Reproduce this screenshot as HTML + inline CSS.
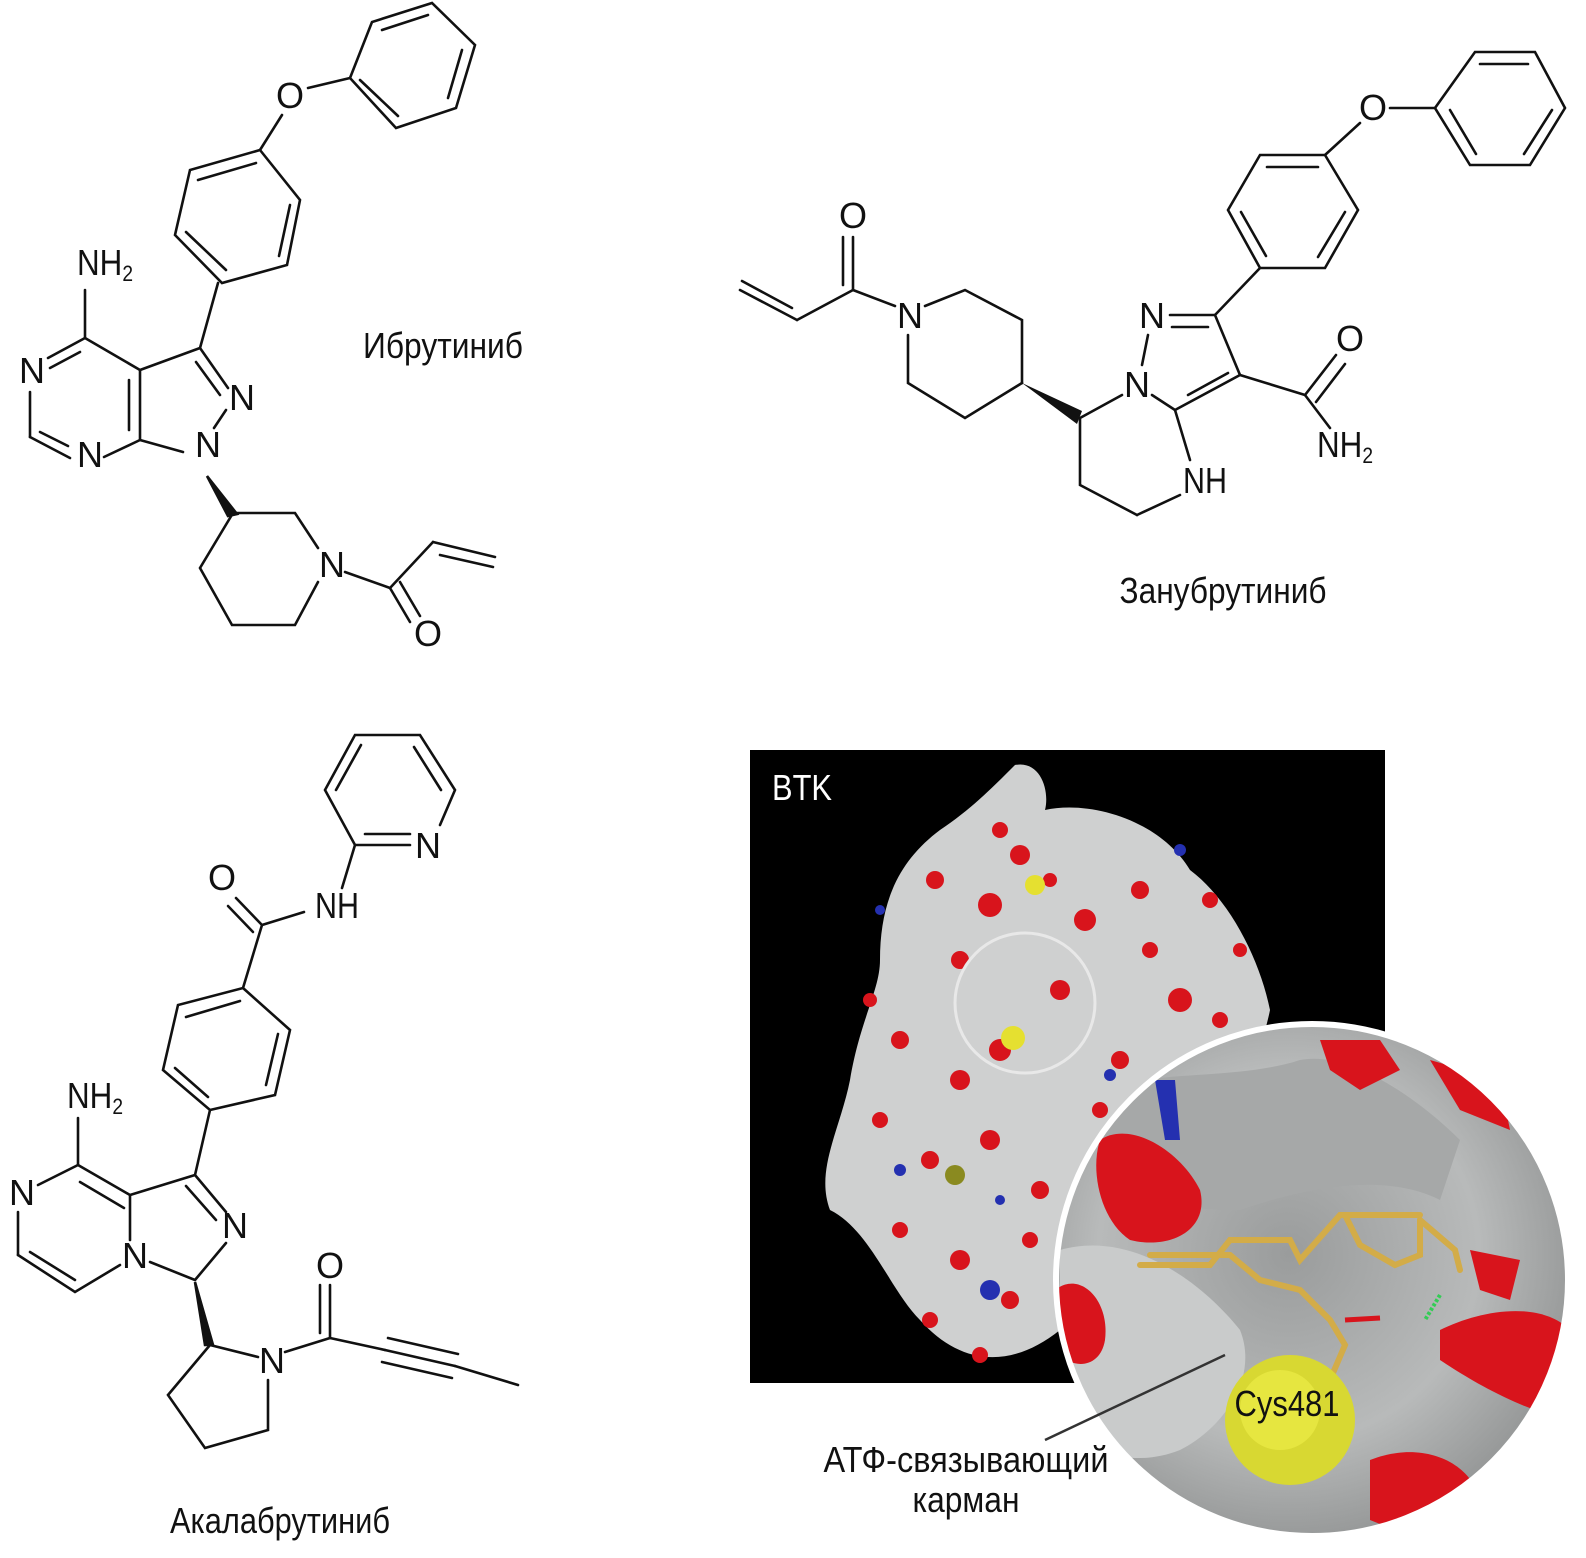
<!DOCTYPE html>
<html><head><meta charset="utf-8">
<style>
html,body{margin:0;padding:0;background:#fff;}
svg{display:block;}
text{font-family:"Liberation Sans Narrow","Liberation Sans",sans-serif;fill:#111;}
</style></head><body>
<svg width="1586" height="1558" viewBox="0 0 1586 1558" xmlns="http://www.w3.org/2000/svg">
<defs>
<radialGradient id="zg" cx="45%" cy="45%" r="60%">
<stop offset="0" stop-color="#9a9c9c"/><stop offset="0.6" stop-color="#b8baba"/><stop offset="1" stop-color="#8e9090"/>
</radialGradient>
<clipPath id="cc"><circle cx="1312" cy="1280" r="254"/></clipPath>
</defs>
<g stroke="#111" stroke-width="2.6" fill="none" stroke-linecap="round">
<!-- IBRUTINIB -->
<polygon points="350,78 372,22 432,3 475,45 456,108 396,128"/>
<line x1="382" y1="30" x2="428" y2="15"/><line x1="462" y1="50" x2="448" y2="98"/><line x1="398" y1="116" x2="360" y2="80"/>
<line x1="308" y1="88" x2="350" y2="78"/><line x1="282" y1="115" x2="260" y2="150"/>
<polygon points="260,150 300,200 287,265 222,283 175,235 190,170"/>
<line x1="290" y1="205" x2="279" y2="256"/><line x1="226" y1="270" x2="186" y2="232"/><line x1="198" y1="180" x2="256" y2="163"/>
<line x1="218" y1="283" x2="200" y2="348"/>
<line x1="200" y1="348" x2="140" y2="370"/>
<line x1="200" y1="348" x2="228" y2="388"/><line x1="196" y1="362" x2="220" y2="395"/>
<line x1="226" y1="410" x2="214" y2="428"/>
<line x1="140" y1="370" x2="140" y2="440"/><line x1="129" y1="380" x2="129" y2="430"/>
<line x1="140" y1="440" x2="183" y2="452"/>
<line x1="140" y1="440" x2="104" y2="457"/>
<line x1="85" y1="338" x2="140" y2="370"/>
<line x1="85" y1="338" x2="48" y2="358"/><line x1="80" y1="352" x2="50" y2="368"/>
<line x1="30" y1="392" x2="30" y2="437"/>
<line x1="30" y1="437" x2="70" y2="458"/><line x1="40" y1="432" x2="68" y2="446"/>
<line x1="85" y1="338" x2="85" y2="290"/>
<polygon points="207,476 237,514 228,516" fill="#111"/>
<polyline points="233,513 295,513 318,548"/>
<polyline points="318,582 295,625 232,625 200,568 233,513"/>
<line x1="345" y1="572" x2="390" y2="588"/>
<line x1="390" y1="588" x2="433" y2="542"/>
<line x1="433" y1="542" x2="495" y2="557"/><line x1="440" y1="555" x2="493" y2="567"/>
<line x1="390" y1="588" x2="410" y2="622"/><line x1="400" y1="582" x2="420" y2="616"/>
<!-- ZANUBRUTINIB -->
<polygon points="1435,108 1475,52 1535,52 1565,108 1530,165 1470,165"/>
<line x1="1480" y1="64" x2="1528" y2="64"/><line x1="1552" y1="110" x2="1524" y2="154"/><line x1="1476" y1="154" x2="1450" y2="110"/>
<line x1="1390" y1="108" x2="1435" y2="108"/><line x1="1360" y1="123" x2="1325" y2="155"/>
<polygon points="1325,155 1358,210 1325,268 1260,268 1228,210 1260,155"/>
<line x1="1345" y1="212" x2="1318" y2="257"/><line x1="1266" y1="256" x2="1241" y2="212"/><line x1="1267" y1="167" x2="1318" y2="167"/>
<line x1="1260" y1="268" x2="1215" y2="315"/>
<line x1="1215" y1="315" x2="1170" y2="315"/><line x1="1208" y1="327" x2="1172" y2="327"/>
<line x1="1148" y1="335" x2="1142" y2="365"/>
<line x1="1152" y1="395" x2="1175" y2="410"/>
<line x1="1175" y1="410" x2="1240" y2="375"/><line x1="1188" y1="395" x2="1228" y2="373"/>
<line x1="1240" y1="375" x2="1215" y2="315"/>
<line x1="1240" y1="375" x2="1305" y2="395"/>
<line x1="1305" y1="395" x2="1336" y2="355"/><line x1="1316" y1="402" x2="1345" y2="364"/>
<line x1="1305" y1="395" x2="1330" y2="428"/>
<line x1="1175" y1="410" x2="1190" y2="460"/>
<line x1="1180" y1="495" x2="1137" y2="515"/>
<polyline points="1137,515 1080,485 1080,418 1122,395"/>
<polygon points="1022,383 1082,411 1077,424" fill="#111" stroke="none"/>
<polyline points="1022,383 1022,320 965,290 925,306"/>
<polyline points="908,335 908,383 965,418 1022,383"/>
<line x1="895" y1="306" x2="853" y2="290"/>
<line x1="853" y1="290" x2="853" y2="237"/><line x1="843" y1="285" x2="843" y2="237"/>
<line x1="853" y1="290" x2="797" y2="320"/>
<line x1="797" y1="320" x2="740" y2="290"/><line x1="792" y1="308" x2="742" y2="281"/>
<!-- ACALABRUTINIB -->
<polyline points="410,845 355,845 325,790 355,735 420,735 455,790 440,825"/>
<line x1="336" y1="790" x2="361" y2="745"/><line x1="414" y1="747" x2="441" y2="790"/><line x1="365" y1="834" x2="410" y2="834"/>
<line x1="355" y1="845" x2="342" y2="888"/>
<line x1="304" y1="912" x2="262" y2="925"/>
<line x1="262" y1="925" x2="236" y2="898"/><line x1="253" y1="932" x2="228" y2="906"/>
<line x1="262" y1="925" x2="243" y2="988"/>
<polygon points="243,988 290,1030 275,1095 210,1110 163,1070 178,1005"/>
<line x1="278" y1="1034" x2="266" y2="1085"/><line x1="208" y1="1097" x2="175" y2="1068"/><line x1="186" y1="1017" x2="240" y2="1001"/>
<line x1="210" y1="1110" x2="195" y2="1175"/>
<line x1="195" y1="1175" x2="226" y2="1212"/><line x1="186" y1="1186" x2="216" y2="1220"/>
<line x1="226" y1="1243" x2="195" y2="1280"/>
<line x1="195" y1="1280" x2="150" y2="1262"/>
<line x1="130" y1="1240" x2="130" y2="1195"/>
<line x1="130" y1="1195" x2="195" y2="1175"/>
<line x1="130" y1="1195" x2="78" y2="1165"/><line x1="124" y1="1208" x2="80" y2="1182"/>
<line x1="78" y1="1165" x2="78" y2="1118"/>
<line x1="78" y1="1165" x2="38" y2="1185"/>
<line x1="18" y1="1212" x2="18" y2="1255"/>
<polyline points="18,1255 75,1292 120,1265"/><line x1="30" y1="1252" x2="75" y2="1280"/>
<polygon points="195,1282 213,1345 205,1345" fill="#111"/>
<line x1="210" y1="1345" x2="258" y2="1357"/>
<polyline points="268,1380 268,1430 205,1448 168,1395 210,1345"/>
<line x1="285" y1="1352" x2="330" y2="1338"/>
<line x1="330" y1="1338" x2="330" y2="1285"/><line x1="320" y1="1333" x2="320" y2="1285"/>
<line x1="330" y1="1338" x2="385" y2="1350"/>
<line x1="385" y1="1350" x2="455" y2="1366"/><line x1="388" y1="1338" x2="458" y2="1354"/><line x1="382" y1="1362" x2="452" y2="1378"/>
<line x1="455" y1="1366" x2="518" y2="1385"/>
</g>
<g font-size="36" text-anchor="middle">
<text x="290" y="108">O</text>
<text x="105" y="275" textLength="56" lengthAdjust="spacingAndGlyphs">NH<tspan font-size="22" dy="6">2</tspan></text>
<text x="32" y="383">N</text>
<text x="242" y="410">N</text>
<text x="208" y="457">N</text>
<text x="90" y="467">N</text>
<text x="332" y="577">N</text>
<text x="428" y="646">O</text>
<text x="443" y="358" textLength="160" lengthAdjust="spacingAndGlyphs">Ибрутиниб</text>
<text x="1373" y="120">O</text>
<text x="853" y="228">O</text>
<text x="910" y="328">N</text>
<text x="1152" y="328">N</text>
<text x="1137" y="397">N</text>
<text x="1350" y="351">O</text>
<text x="1205" y="493" textLength="44" lengthAdjust="spacingAndGlyphs">NH</text>
<text x="1345" y="457" textLength="56" lengthAdjust="spacingAndGlyphs">NH<tspan font-size="22" dy="6">2</tspan></text>
<text x="1223" y="603" textLength="207" lengthAdjust="spacingAndGlyphs">Занубрутиниб</text>
<text x="428" y="858">N</text>
<text x="222" y="890">O</text>
<text x="337" y="918" textLength="44" lengthAdjust="spacingAndGlyphs">NH</text>
<text x="95" y="1108" textLength="56" lengthAdjust="spacingAndGlyphs">NH<tspan font-size="22" dy="6">2</tspan></text>
<text x="22" y="1205">N</text>
<text x="235" y="1238">N</text>
<text x="135" y="1268">N</text>
<text x="330" y="1278">O</text>
<text x="272" y="1373">N</text>
<text x="280" y="1533" textLength="220" lengthAdjust="spacingAndGlyphs">Акалабрутиниб</text>
</g>
<!-- protein panel -->
<rect x="750" y="750" width="635" height="633" fill="#000"/>
<path d="M1015,765 C1040,760 1050,790 1045,810 C1090,800 1160,820 1190,870 C1230,900 1260,960 1270,1010 C1260,1060 1230,1120 1200,1160 C1170,1230 1110,1300 1060,1330 C1010,1370 960,1365 920,1320 C890,1290 870,1230 830,1210 C815,1170 840,1130 850,1080 C860,1020 880,990 880,960 C880,900 900,860 940,830 C970,810 990,790 1015,765 Z" fill="#cfd0d0"/>
<g fill="#d8141c">
<circle cx="990" cy="905" r="12"/><circle cx="1020" cy="855" r="10"/><circle cx="935" cy="880" r="9"/><circle cx="1085" cy="920" r="11"/><circle cx="1140" cy="890" r="9"/><circle cx="1180" cy="1000" r="12"/><circle cx="1220" cy="1020" r="8"/><circle cx="960" cy="960" r="9"/><circle cx="1060" cy="990" r="10"/><circle cx="900" cy="1040" r="9"/><circle cx="960" cy="1080" r="10"/><circle cx="1000" cy="1050" r="11"/><circle cx="880" cy="1120" r="8"/><circle cx="930" cy="1160" r="9"/><circle cx="990" cy="1140" r="10"/><circle cx="1040" cy="1190" r="9"/><circle cx="900" cy="1230" r="8"/><circle cx="960" cy="1260" r="10"/><circle cx="1010" cy="1300" r="9"/><circle cx="930" cy="1320" r="8"/><circle cx="1120" cy="1060" r="9"/><circle cx="1100" cy="1110" r="8"/><circle cx="1210" cy="900" r="8"/><circle cx="1050" cy="880" r="7"/><circle cx="870" cy="1000" r="7"/><circle cx="1150" cy="950" r="8"/><circle cx="1030" cy="1240" r="8"/><circle cx="980" cy="1355" r="8"/><circle cx="1000" cy="830" r="8"/><circle cx="1240" cy="950" r="7"/></g>
<g fill="#2430b0"><circle cx="990" cy="1290" r="10"/><circle cx="1180" cy="850" r="6"/><circle cx="900" cy="1170" r="6"/><circle cx="1110" cy="1075" r="6"/><circle cx="1000" cy="1200" r="5"/><circle cx="880" cy="910" r="5"/></g>
<circle cx="1035" cy="885" r="10" fill="#e5e030"/><circle cx="1013" cy="1038" r="12" fill="#e5e030"/><circle cx="955" cy="1175" r="10" fill="#8a8a20"/>
<circle cx="1025" cy="1003" r="70" fill="none" stroke="#e8e8e8" stroke-width="3"/>
<text x="772" y="800" font-size="36" textLength="60" lengthAdjust="spacingAndGlyphs" style="fill:#fff">BTK</text>
<!-- zoom circle -->
<circle cx="1312" cy="1280" r="258" fill="#fff"/>
<g clip-path="url(#cc)">
<rect x="1050" y="1020" width="530" height="520" fill="url(#zg)"/>
<path d="M1060,1250 C1130,1230 1200,1280 1240,1330 C1260,1380 1220,1430 1180,1450 C1130,1470 1080,1450 1060,1420 Z" fill="#c9cbcb"/>
<path d="M1100,1090 C1150,1070 1240,1080 1300,1060 C1350,1050 1420,1100 1460,1140 L1440,1200 C1380,1170 1300,1190 1240,1210 C1180,1210 1130,1200 1100,1170 Z" fill="#a6a8a8"/>
<g fill="#d8141c">
<path d="M1100,1140 C1130,1120 1180,1150 1200,1190 C1210,1230 1170,1250 1130,1240 C1100,1220 1090,1170 1100,1140 Z"/>
<path d="M1055,1290 C1080,1270 1110,1300 1105,1340 C1100,1370 1070,1370 1055,1350 Z"/>
<path d="M1320,1040 L1380,1040 L1400,1070 L1360,1090 L1330,1070 Z"/>
<path d="M1430,1060 L1500,1080 L1510,1130 L1460,1110 Z"/>
<path d="M1440,1330 C1480,1310 1540,1300 1570,1330 L1570,1420 C1520,1410 1470,1380 1440,1360 Z"/>
<path d="M1370,1460 C1420,1440 1470,1460 1480,1500 L1420,1540 L1370,1520 Z"/>
<path d="M1470,1250 L1520,1260 L1510,1300 L1480,1290 Z"/>
</g>
<path d="M1155,1080 L1175,1080 L1180,1140 L1165,1140 Z" fill="#2430b0"/>
<g stroke="#d3ac48" stroke-width="6" fill="none" stroke-linecap="round">
<polyline points="1140,1265 1210,1265 1230,1240 1290,1240 1300,1260 1340,1215 1420,1215"/>
<polyline points="1150,1255 1230,1255 1260,1280 1300,1290 1330,1320 1345,1345 1330,1380"/>
<polyline points="1345,1215 1360,1245 1395,1265 1420,1255 1420,1220"/>
<polyline points="1420,1220 1455,1250 1460,1270"/>
</g>
<line x1="1345" y1="1320" x2="1380" y2="1318" stroke="#d8141c" stroke-width="5"/>
<line x1="1440" y1="1295" x2="1425" y2="1320" stroke="#33cc55" stroke-width="4" stroke-dasharray="3,2"/>
<circle cx="1290" cy="1420" r="65" fill="#d8d832"/>
<circle cx="1280" cy="1410" r="40" fill="#e6e640"/>
</g>
<circle cx="1312" cy="1280" r="256" fill="none" stroke="#fff" stroke-width="6"/>
<line x1="1045" y1="1440" x2="1225" y2="1355" stroke="#333" stroke-width="2.5"/>
<g font-size="36" text-anchor="middle">
<text x="1287" y="1416" textLength="105" lengthAdjust="spacingAndGlyphs">Cys481</text>
<text x="966" y="1472" textLength="285" lengthAdjust="spacingAndGlyphs">АТФ-связывающий</text>
<text x="966" y="1512" textLength="107" lengthAdjust="spacingAndGlyphs">карман</text>
</g>
</svg>
</body></html>
